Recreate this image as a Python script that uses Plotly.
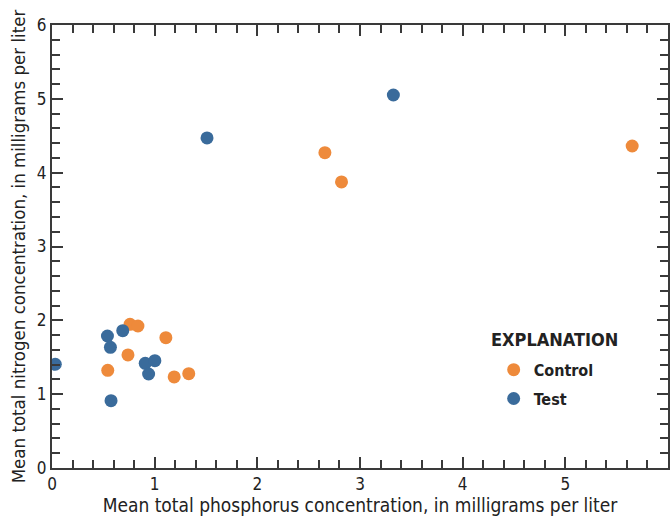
import plotly.graph_objects as go

control_p = [0.760, 0.837, 1.109, 0.740, 0.543, 1.190, 1.332, 2.658, 2.820, 5.651]
control_n = [1.946, 1.923, 1.765, 1.531, 1.323, 1.233, 1.277, 4.271, 3.874, 4.361]
test_p = [0.032, 0.540, 0.569, 0.575, 0.689, 0.908, 0.941, 1.002, 1.510, 3.325]
test_n = [1.405, 1.788, 1.635, 0.912, 1.860, 1.418, 1.273, 1.453, 4.470, 5.052]

x_title = "Mean total phosphorus concentration, in milligrams per liter"
y_title = "Mean total nitrogen concentration, in milligrams per liter"
legend_title = "EXPLANATION"

FONT = "DejaVu Sans Condensed, Roboto, sans-serif"
ORANGE = "#EE8A3B"
BLUE = "#3A6B9B"
AX = "#3a3a3a"

fig = go.Figure()
fig.add_trace(go.Scatter(x=control_p, y=control_n, mode="markers", name="<b>Control</b>",
                         legendgroup="c",
                         marker=dict(color=ORANGE, size=13, line=dict(width=0))))
fig.add_trace(go.Scatter(x=test_p, y=test_n, mode="markers", name="<b>Test</b>",
                         legendgroup="t",
                         marker=dict(color=BLUE, size=13, line=dict(width=0))))

axis_common = dict(
    showgrid=False, zeroline=False, showline=True, linecolor=AX, linewidth=2,
    ticks="inside", ticklen=11, tickwidth=1.5, tickcolor=AX, mirror="ticks",
    dtick=1, tickfont=dict(size=17, color="#222", family=FONT),
    minor=dict(ticks="inside", ticklen=8, tickwidth=1.5, tickcolor=AX, dtick=0.2),
)

fig.update_layout(
    width=671, height=517,
    margin=dict(l=52, r=1, t=25, b=49),
    paper_bgcolor="white", plot_bgcolor="white",
    font=dict(family=FONT, color="#222"),
    xaxis=dict(range=[0, 6], title=dict(text=x_title, font=dict(size=19, family=FONT), standoff=4),
               **axis_common),
    yaxis=dict(range=[0, 6], title=dict(text=y_title, font=dict(size=18.5, family=FONT), standoff=6),
               **axis_common),
    legend=dict(x=0.717, y=0.26, xanchor="left", yanchor="top",
                font=dict(size=16, family=FONT), bgcolor="rgba(0,0,0,0)",
                itemwidth=30, tracegroupgap=5),
    annotations=[dict(text="<b>" + legend_title + "</b>", xref="paper", yref="paper",
                      x=0.709, y=0.289, xanchor="left", yanchor="middle", showarrow=False,
                      font=dict(size=18, family=FONT, color="#222"))],
)

fig.write_html("out.html")
